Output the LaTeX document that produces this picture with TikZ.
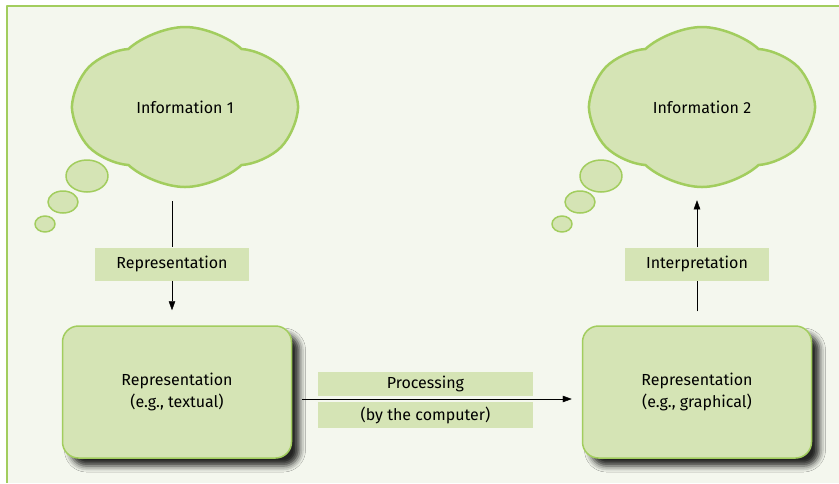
\documentclass[tikz,border=0pt]{standalone}
\usepackage{fontspec}
\setmainfont{Fira Sans}
\usetikzlibrary{shapes.symbols,shadows.blur,arrows.meta}
\definecolor{panelbg}{HTML}{F4F7EE}
\definecolor{leaf}{HTML}{D5E4B5}
\definecolor{rim}{HTML}{A2CD5E}
\begin{document}
\begin{tikzpicture}[x=1pt, y=-1pt, font=\fontsize{16}{22}\selectfont, line join=round, >={Triangle[length=9pt,width=6.5pt]},
	thought/.style={cloud, cloud puffs=6, cloud puff arc=85, aspect=1.4, draw=rim, line width=2.5pt, fill=leaf, minimum width=222pt, minimum height=160pt},
	bubble/.style={draw=rim, line width=1.5pt, fill=leaf},
	tag/.style={fill=leaf, minimum height=33pt, inner xsep=21pt},
	stage/.style={rounded corners=16pt, draw=rim, line width=1.5pt, fill=leaf, minimum width=229pt, minimum height=132pt, align=center,
		blur shadow={shadow xshift=8pt, shadow yshift=-8pt, shadow blur radius=6pt, shadow opacity=85}}]
		\useasboundingbox (0,0) rectangle (839,483);
		\fill[panelbg] (7,6) rectangle (839,483);
		\draw[rim, line width=2pt] (7,483) -- (7,6) -- (839,6);
		% thoughts
		\filldraw[bubble] (87,176) ellipse [x radius=21, y radius=16] (63,202) ellipse [x radius=15, y radius=11] (45,224) ellipse [x radius=10, y radius=8];
		\filldraw[bubble] (601,176) ellipse [x radius=21, y radius=16] (580,202) ellipse [x radius=15, y radius=11] (562,224) ellipse [x radius=10, y radius=8];
		\node[thought] (info1) at (185,107) {Information 1};
		\node[thought] (info2) at (702,107) {Information 2};
		% representations
		\node[stage] (rep1) at (177,392) {Representation\\(e.g., textual)};
		\node[stage] (rep2) at (697,392) {Representation\\(e.g., graphical)};
		\node[tag] (encode) at (172,264) {Representation};
		\node[tag] (decode) at (697,264) {Interpretation};
		\draw[shorten <=13pt] (info1.south -| encode) -- (encode.north);
		\draw[->, shorten >=15pt] (encode.south) -- (rep1.north -| encode);
		\draw[shorten <=14pt] (rep2.north -| decode) -- (decode.south);
		\draw[->, shorten >=12pt] (decode.north) -- (info2.south -| decode);
		\draw[->, shorten <=10pt, shorten >=10pt] ([yshift=-7pt]rep1.east) -- node[tag, pos=0.46, above=3pt, minimum height=24pt, minimum width=215pt]{Processing}
			node[tag, pos=0.46, below=3pt, minimum height=26pt, minimum width=215pt]{(by the computer)} ([yshift=-7pt]rep2.west);
\end{tikzpicture}
\end{document}
